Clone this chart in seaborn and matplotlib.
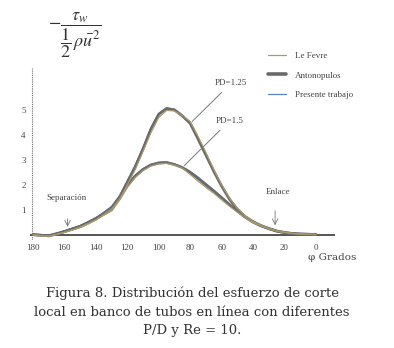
import matplotlib
matplotlib.use('Agg')
import matplotlib.pyplot as plt
import seaborn as sns
import pandas as pd
from matplotlib.lines import Line2D

sns.set_style('white')
plt.rcParams['font.family'] = ['Liberation Serif', 'DejaVu Serif']
plt.rcParams['mathtext.fontset'] = 'stix'

# angulo (grados) y esfuerzo de corte adimensional
phi = [180, 175, 170, 165, 160, 155, 150, 145, 140, 135, 130, 125, 120, 115, 110, 105, 100, 95, 90,
       85, 80, 75, 70, 65, 60, 55, 50, 45, 40, 35, 30, 25, 20, 15, 10, 5, 0]

# P/D = 1.25
antono_125 = [0.0, -0.03, -0.05, 0.03, 0.12, 0.22, 0.32, 0.47, 0.63, 0.85, 1.08, 1.5, 2.1, 2.72, 3.45, 4.25, 4.85, 5.08, 5.02,
              4.78, 4.48, 3.85, 3.2, 2.55, 1.95, 1.42, 1.02, 0.72, 0.52, 0.36, 0.24, 0.14, 0.08, 0.04, 0.02, 0.01, 0.0]
lefevre_125 = [0.0, -0.05, -0.07, 0.01, 0.09, 0.18, 0.28, 0.42, 0.58, 0.8, 1.03, 1.42, 2.0, 2.62, 3.35, 4.1, 4.72, 5.0, 4.98,
               4.8, 4.55, 3.95, 3.3, 2.62, 2.0, 1.47, 1.05, 0.75, 0.53, 0.37, 0.25, 0.15, 0.09, 0.05, 0.02, 0.01, 0.0]
presente_125 = [0.0, -0.02, -0.04, 0.05, 0.15, 0.26, 0.36, 0.52, 0.68, 0.9, 1.14, 1.56, 2.18, 2.8, 3.52, 4.3, 4.88, 5.1, 5.05,
                4.82, 4.5, 3.9, 3.22, 2.58, 1.98, 1.44, 1.0, 0.7, 0.5, 0.34, 0.22, 0.13, 0.07, 0.04, 0.02, 0.01, 0.0]

# P/D = 1.5
antono_15 = [0.0, -0.03, -0.05, 0.03, 0.12, 0.22, 0.33, 0.48, 0.64, 0.82, 1.0, 1.45, 1.97, 2.35, 2.62, 2.8, 2.88, 2.9, 2.82,
             2.7, 2.5, 2.26, 2.0, 1.75, 1.48, 1.2, 0.95, 0.7, 0.5, 0.35, 0.24, 0.14, 0.08, 0.04, 0.02, 0.01, 0.0]
lefevre_15 = [0.0, -0.05, -0.07, 0.0, 0.09, 0.19, 0.3, 0.44, 0.6, 0.78, 0.96, 1.38, 1.9, 2.3, 2.58, 2.76, 2.85, 2.87, 2.8,
              2.68, 2.42, 2.15, 1.9, 1.66, 1.4, 1.14, 0.9, 0.67, 0.48, 0.34, 0.23, 0.14, 0.08, 0.04, 0.02, 0.01, 0.0]
presente_15 = [0.0, -0.02, -0.04, 0.05, 0.15, 0.25, 0.36, 0.51, 0.68, 0.86, 1.05, 1.5, 2.02, 2.4, 2.66, 2.84, 2.92, 2.93, 2.85,
               2.72, 2.55, 2.32, 2.06, 1.8, 1.52, 1.24, 0.98, 0.72, 0.52, 0.36, 0.24, 0.14, 0.08, 0.04, 0.02, 0.01, 0.0]

metodos = ['Le Fevre', 'Antonopulos', 'Presente trabajo']
colores = {'Le Fevre': '#a89a6c', 'Antonopulos': '#6a6a6a', 'Presente trabajo': '#5b82c4'}
grosor = {'Le Fevre': 0.9, 'Antonopulos': 2.0, 'Presente trabajo': 0.8}

series = {
    ('Le Fevre', '1.25'): lefevre_125, ('Le Fevre', '1.5'): lefevre_15,
    ('Antonopulos', '1.25'): antono_125, ('Antonopulos', '1.5'): antono_15,
    ('Presente trabajo', '1.25'): presente_125, ('Presente trabajo', '1.5'): presente_15,
}
filas = []
for (m, pdv), vals in series.items():
    for p, v in zip(phi, vals):
        filas.append({'phi': p, 'tau': v, 'metodo': m, 'PD': pdv})
df = pd.DataFrame(filas)

fig = plt.figure(figsize=(3.94, 3.48), dpi=100)
ax = fig.add_axes([30 / 394, 1 - 239.5 / 348, 305 / 394, 171.5 / 348])

for m in ['Presente trabajo', 'Antonopulos', 'Le Fevre']:
    sub = df[df['metodo'] == m]
    sns.lineplot(data=sub, x='phi', y='tau', units='PD', estimator=None, sort=False,
                 color=colores[m], lw=grosor[m], ax=ax, legend=False)

ax.set_xlim(181.9, -12.1)
ax.set_ylim(-0.2, 6.71)
ax.axhline(0, color='#555555', lw=1.4, zorder=0)
ax.axvline(180.5, color='#666666', lw=0.8, ls=(0, (1, 1)))
for s in ax.spines.values():
    s.set_visible(False)
ax.set_xlabel('')
ax.set_ylabel('')
ax.set_xticks([180, 160, 140, 120, 100, 80, 60, 40, 20, 0])
ax.set_xticklabels(['180', '160', '140', '120', '100', '80', '60', '40', '20', '0'])
ax.set_yticks([1, 2, 3, 4, 5])
ax.tick_params(axis='both', labelsize=6.5, colors='#444444', length=2, direction='in', pad=3)
ax.tick_params(axis='x', bottom=False)

anot = dict(fontsize=6.5, color='#444444')
ax.annotate('PD=1.25', xy=(80, 4.48), xytext=(54, 6.1), ha='center', va='center',
            arrowprops=dict(arrowstyle='-', color='#777777', lw=0.7), **anot)
ax.annotate('PD=1.5', xy=(85, 2.7), xytext=(55, 4.58), ha='center', va='center',
            arrowprops=dict(arrowstyle='-', color='#777777', lw=0.7), **anot)
ax.text(159, 1.47, 'Separación', ha='center', va='center', **anot)
ax.annotate('', xy=(158, 0.2), xytext=(158, 0.75),
            arrowprops=dict(arrowstyle='->', color='#777777', lw=0.6))
ax.text(24, 1.71, 'Enlace', ha='center', va='center', **anot)
ax.annotate('', xy=(26, 0.26), xytext=(26, 1.07),
            arrowprops=dict(arrowstyle='->', color='#777777', lw=0.6))

handles = [Line2D([], [], color=colores[m], lw=2.6 if m == 'Antonopulos' else 0.9) for m in metodos]
fig.legend(handles, metodos, loc='upper left', bbox_to_anchor=(260 / 394, 1 - 44 / 348),
           frameon=False, fontsize=6.5, handlelength=2.0, handletextpad=1.0, labelspacing=1.2,
           labelcolor='#444444')

fig.text(75 / 394, 1 - 35 / 348, r'$-\dfrac{\tau_w}{\dfrac{1}{2}\,\rho\bar{u}^{2}}$',
         ha='center', va='center', fontsize=13, color='#333333')
fig.text(332 / 394, 1 - 258 / 348, 'φ Grados', ha='center', va='center', fontsize=7.5,
         color='#444444', family=['DejaVu Serif'])

fig.text(192 / 394, 1 - 312 / 348,
         'Figura 8. Distribución del esfuerzo de corte\nlocal en banco de tubos en línea con diferentes\nP/D y Re = 10.',
         ha='center', va='center', fontsize=9.5, linespacing=1.55, color='#333333',
         family=['DejaVu Serif'])

fig.savefig('out.png', dpi=100)
